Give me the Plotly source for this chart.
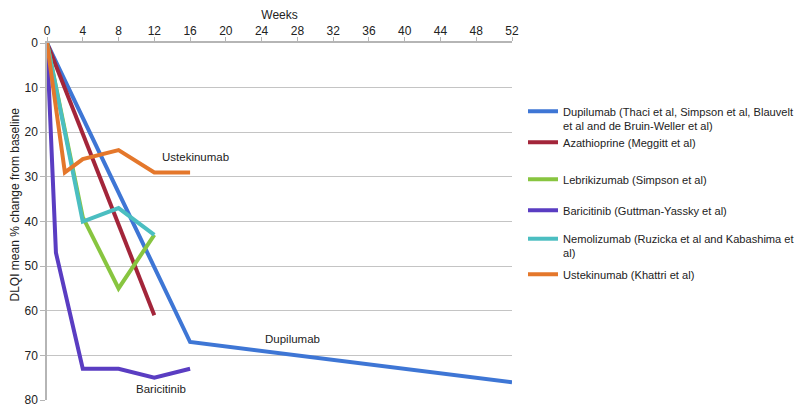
import plotly.graph_objects as go

# ---- data ----
dup_weeks = [0, 16, 52]
dup_vals = [0, 67, 76]
aza_weeks = [0, 12]
aza_vals = [0, 61]
leb_weeks = [0, 4, 8, 12]
leb_vals = [0, 39, 55, 43]
bar_weeks = [0, 1, 4, 8, 12, 16]
bar_vals = [0, 47, 73, 73, 75, 73]
nem_weeks = [0, 4, 8, 12]
nem_vals = [0, 40, 37, 43]
ust_weeks = [0, 2, 4, 8, 12, 16]
ust_vals = [0, 29, 26, 24, 29, 29]

x_ticks = [0, 4, 8, 12, 16, 20, 24, 28, 32, 36, 40, 44, 48, 52]
y_ticks = [0, 10, 20, 30, 40, 50, 60, 70, 80]

series = [
    ("Dupilumab (Thaci et al, Simpson et al, Blauvelt<br>et al and de Bruin-Weller et al)", dup_weeks, dup_vals, "#3E76D5"),
    ("Azathioprine (Meggitt et al)", aza_weeks, aza_vals, "#A3253A"),
    ("Lebrikizumab (Simpson et al)", leb_weeks, leb_vals, "#88C540"),
    ("Baricitinib (Guttman-Yassky et al)", bar_weeks, bar_vals, "#5A3DC2"),
    ("Nemolizumab (Ruzicka et al and Kabashima et<br>al)", nem_weeks, nem_vals, "#4BBEC1"),
    ("Ustekinumab (Khattri et al)", ust_weeks, ust_vals, "#E4772B"),
]

# label annotations: (text, x, y)
labels = [
    ("Ustekinumab", 16.6, 25.5),
    ("Dupilumab", 27.4, 66.4),
    ("Baricitinib", 12.7, 77.6),
]

FONT = "Liberation Sans, Arial, sans-serif"
OFF = 8  # default page body margin
W, H = 809 - OFF, 416 - OFF
ML, MR, MT, MB = 47 - OFF, 297, 43 - OFF, 16
plot_h = H - MT - MB
plot_w = W - ML - MR

legend_centers_px = [118.5, 143, 180, 211, 246, 275]

fig = go.Figure()
for i, (name, xs, ys, col) in enumerate(series):
    lg = "legend" if i == 0 else f"legend{i+1}"
    fig.add_trace(go.Scatter(
        x=xs, y=ys, mode="lines", name=name,
        line=dict(color=col, width=4),
        legend=lg, showlegend=True,
    ))

for text, x, y in labels:
    fig.add_annotation(x=x, y=y, text=text, showarrow=False,
                       font=dict(family=FONT, size=11.5, color="#222222"))

layout_legends = {}
for i, cy in enumerate(legend_centers_px):
    key = "legend" if i == 0 else f"legend{i+1}"
    layout_legends[key] = dict(
        xref="container", yref="container",
        x=(523 - OFF) / W, xanchor="left",
        y=1 - (cy - OFF) / H, yanchor="middle",
        font=dict(family=FONT, size=11.1, color="#222222"),
        bgcolor="rgba(0,0,0,0)", valign="top",
        itemwidth=30,
    )

fig.update_layout(
    width=W, height=H,
    margin=dict(l=ML, r=MR, t=MT, b=MB, autoexpand=False),
    plot_bgcolor="white", paper_bgcolor="white",
    font=dict(family=FONT, size=12, color="#222222"),
    **layout_legends,
)

fig.update_xaxes(
    side="top", range=[0, 52], tickvals=x_ticks,
    showgrid=False, showline=True, linecolor="#B5B5B5", linewidth=1.5,
    ticks="outside", ticklen=4, tickcolor="#B5B5B5",
    ticklabelstandoff=-3,
    tickfont=dict(family=FONT, size=12, color="#222222"),
    title=dict(text="Weeks", font=dict(family=FONT, size=12, color="#222222"), standoff=2),
    zeroline=False, automargin=False,
)
fig.update_yaxes(
    range=[80, 0], tickvals=y_ticks,
    showgrid=True, gridcolor="#C4C4C4", gridwidth=1,
    showline=True, linecolor="#B5B5B5", linewidth=1.5,
    ticks="outside", ticklen=5, tickcolor="#B5B5B5",
    tickfont=dict(family=FONT, size=12, color="#222222"),
    zeroline=False, automargin=False,
)

# y axis title placed like the reference (offset upward)
fig.add_annotation(xref="paper", yref="paper",
                   x=(15 - 47) / plot_w, y=1 - (204.5 - 43) / plot_h,
                   text="DLQI mean % change from baseline", textangle=-90,
                   showarrow=False, xanchor="center", yanchor="middle",
                   font=dict(family=FONT, size=12, color="#222222"))

fig.write_html("out.html")
